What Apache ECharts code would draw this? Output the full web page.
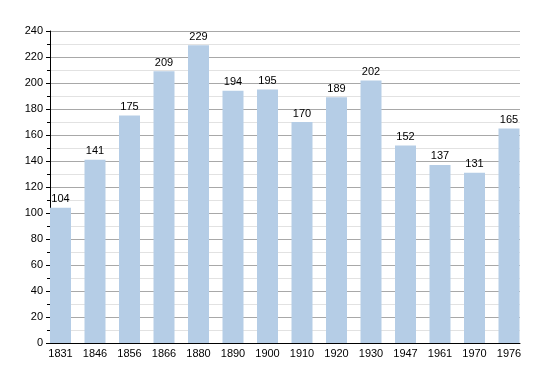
<!DOCTYPE html>
<html>
<head>
<meta charset="utf-8">
<script src="https://cdn.jsdelivr.net/npm/echarts@6/dist/echarts.min.js"></script>
<style>html,body{margin:0;padding:0;background:#fff}#c{width:550px;height:373px}</style>
</head>
<body>
<div id="c"></div>
<script>
const years = ['1831','1846','1856','1866','1880','1890','1900','1910','1920','1930','1947','1961','1970','1976'];
const population = [104,141,175,209,229,194,195,170,189,202,152,137,131,165];
const yTicks = {min:0, max:240, interval:20};

const chart = echarts.init(document.getElementById('c'), null, {renderer:'canvas'});
const font = 'Liberation Sans, Arial, sans-serif';
chart.setOption({
  animation:false,
  backgroundColor:'#fff',
  grid:[
    {left:50, right:30, top:31, bottom:30},
    {left:60.5, right:41, top:31, bottom:30}
  ],
  xAxis:[
    {gridIndex:0, type:'category', data:years, axisLabel:{show:false}, axisTick:{show:false},
     axisLine:{lineStyle:{color:'#000', width:1}}, splitLine:{show:false}, z:5},
    {gridIndex:1, type:'category', data:years, boundaryGap:false, axisLine:{show:false}, axisTick:{show:false},
     axisLabel:{color:'#000', fontSize:11, fontFamily:font, margin:5, interval:0}, splitLine:{show:false}}
  ],
  yAxis:[
    {gridIndex:0, type:'value', min:yTicks.min, max:yTicks.max, interval:yTicks.interval,
     axisLine:{show:true, lineStyle:{color:'#000'}},
     axisTick:{show:true, length:4, lineStyle:{color:'#000'}},
     minorTick:{show:true, splitNumber:2, length:3, lineStyle:{color:'#000'}},
     axisLabel:{color:'#000', fontSize:11, fontFamily:font, margin:7},
     splitLine:{show:true, lineStyle:{color:'#a8a8a8', width:1}},
     minorSplitLine:{show:true, lineStyle:{color:'#e2e2e2', width:1}}},
    {gridIndex:1, type:'value', min:yTicks.min, max:yTicks.max, interval:yTicks.interval, show:false, splitLine:{show:false}}
  ],
  series:[{
    type:'bar', xAxisIndex:1, yAxisIndex:1, data:population, barWidth:21, clip:false,
    itemStyle:{color:'#b5cde6'},
    label:{show:true, position:'top', distance:3, color:'#000', fontSize:11, fontFamily:font}
  }]
});
</script>
</body>
</html>
